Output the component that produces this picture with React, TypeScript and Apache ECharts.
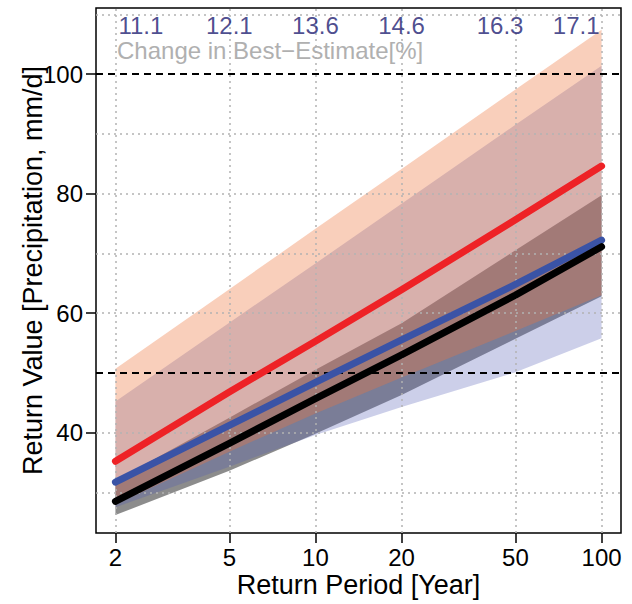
import React, { useEffect, useRef } from "react";
import * as echarts from "echarts";

// ---- data ----
const PERIODS = [2, 5, 10, 20, 50, 100];
const RED = [35.2, 46.8, 55.3, 63.9, 75.6, 84.6];
const RED_LO = [28.0, 36.8, 43.2, 49.2, 57.0, 63.0];
const RED_HI = [50.7, 64.0, 74.1, 84.1, 97.4, 107.4];
const BLUE = [31.7, 41.2, 48.4, 55.5, 64.8, 72.2];
const BLUE_LO = [27.5, 34.3, 39.6, 44.3, 50.1, 55.8];
const BLUE_HI = [45.2, 58.4, 68.3, 78.3, 91.5, 101.4];
const BLACK = [28.5, 38.2, 45.7, 53.0, 63.0, 71.1];
const BLACK_LO = [26.2, 33.6, 39.8, 46.3, 55.7, 62.8];
const BLACK_HI = [32.0, 42.5, 50.5, 58.3, 70.5, 79.7];
const CHANGE = ["11.1", "12.1", "13.6", "14.6", "16.3", "17.1"];
const CHANGE_TITLE = "Change in Best\u2212Estimate[%]";
const X_TICKS = [2, 5, 10, 20, 50, 100];
const Y_TICKS = [40, 60, 80, 100];
const Y_GRID = [30, 40, 50, 60, 70, 80, 90, 100, 110];
const REF_LINES = [50, 100];

// ---- layout / style ----
const X_MIN = 1.7104;
const X_MAX = 116.92;
const Y_MIN = 23.2;
const Y_MAX = 111.05;
const ANNOT_Y = 108.1;
const ANNOT_ALIGN = ["left", "center", "center", "center", "right", "right"];
const ANNOT_OFFSET = [[3, 0], [0, 0], [0, 0], [0, 0], [8, 0], [-2, 0]];
const FONT = "Liberation Sans, Arial, Helvetica, sans-serif";

export default function App() {
  const ref = useRef<HTMLDivElement>(null);
  useEffect(() => {
    if (!ref.current) return;
    const chart = echarts.init(ref.current, null, { renderer: "svg" });
    const bands = [
      { lo: BLACK_LO, hi: BLACK_HI, color: "rgba(0,0,0,0.45)" },
      { lo: BLUE_LO, hi: BLUE_HI, color: "rgba(80,90,180,0.29)" },
      { lo: RED_LO, hi: RED_HI, color: "rgba(238,118,61,0.35)" },
    ];
    const pairs = (ys: number[]) => PERIODS.map((p, i) => [p, ys[i]]);
    const lineSeries = (name: string, ys: number[], color: string, z: number) => ({
      name,
      type: "line",
      xAxisIndex: 0,
      yAxisIndex: 0,
      data: pairs(ys),
      symbol: "none",
      z,
      silent: true,
      lineStyle: { color, width: 7, cap: "round", join: "round" },
    });
    const tickStyle = { color: "#000", width: 1.5 };
    const option: any = {
      animation: false,
      textStyle: { fontFamily: FONT },
      grid: {
        left: 96,
        top: 8,
        width: 525,
        height: 525,
        show: true,
        borderColor: "#000",
        borderWidth: 1.5,
        backgroundColor: "rgba(0,0,0,0)",
      },
      xAxis: [
        { type: "log", logBase: 10, min: X_MIN, max: X_MAX, show: false },
        {
          type: "value",
          position: "bottom",
          min: Math.log10(X_MIN),
          max: Math.log10(X_MAX),
          axisLine: { show: false },
          splitLine: { show: false },
          axisTick: {
            show: true,
            length: 10,
            lineStyle: tickStyle,
            customValues: X_TICKS.map((v) => Math.log10(v)),
          },
          axisLabel: {
            customValues: X_TICKS.map((v) => Math.log10(v)),
            formatter: (v: number) => String(Math.round(Math.pow(10, v))),
            fontSize: 24,
            color: "#000",
            margin: 12,
            fontFamily: FONT,
          },
          name: "Return Period [Year]",
          nameLocation: "middle",
          nameGap: 38,
          nameMoveOverlap: false,
          nameTextStyle: { fontSize: 27, color: "#000", fontFamily: FONT },
        },
      ],
      yAxis: {
        type: "value",
        min: Y_MIN,
        max: Y_MAX,
        axisLine: { show: false },
        splitLine: { show: false },
        axisTick: { show: true, length: 10, lineStyle: tickStyle, customValues: Y_TICKS },
        axisLabel: { customValues: Y_TICKS, fontSize: 24, color: "#000", margin: 13, fontFamily: FONT },
        name: "Return Value [Precipitation, mm/d]",
        nameLocation: "middle",
        nameRotate: 90,
        nameGap: 50,
        nameMoveOverlap: false,
        nameTextStyle: { fontSize: 27, color: "#000", fontFamily: FONT },
      },
      graphic: [
        {
          type: "text",
          left: 117,
          top: 38,
          z: 30,
          style: { text: CHANGE_TITLE, fill: "#B0B0B0", font: `24px ${FONT}`, lineHeight: 24 },
        },
      ],
      series: [
        {
          type: "custom",
          xAxisIndex: 0,
          yAxisIndex: 0,
          z: 1,
          silent: true,
          data: bands.map((b, i) => [PERIODS[0], b.lo[0], i]),
          renderItem: (params: any, api: any) => {
            const b = bands[params.dataIndex];
            const upper = PERIODS.map((p, i) => api.coord([p, b.hi[i]]));
            const lower = PERIODS.map((p, i) => api.coord([p, b.lo[i]])).reverse();
            return {
              type: "polygon",
              shape: { points: upper.concat(lower) },
              style: { fill: b.color, stroke: null },
            };
          },
        },
        {
          type: "line",
          xAxisIndex: 0,
          yAxisIndex: 0,
          data: pairs(BLACK),
          symbol: "none",
          z: 3,
          silent: true,
          lineStyle: { width: 0, opacity: 0 },
          markLine: {
            silent: true,
            symbol: ["none", "none"],
            label: { show: false },
            lineStyle: { color: "#000", type: [7, 5], width: 2, opacity: 1 },
            data: REF_LINES.map((v) => ({ yAxis: v })),
          },
        },
        lineSeries("red", RED, "#EE2226", 5),
        lineSeries("blue", BLUE, "#3A53A6", 6),
        lineSeries("black", BLACK, "#000000", 7),
        {
          type: "line",
          xAxisIndex: 0,
          yAxisIndex: 0,
          data: pairs(BLACK),
          symbol: "none",
          z: 15,
          silent: true,
          lineStyle: { width: 0, opacity: 0 },
          markLine: {
            silent: true,
            symbol: ["none", "none"],
            label: { show: false },
            lineStyle: { color: "#B3B3B3", type: [2, 4], width: 1.5, opacity: 1 },
            data: [
              ...X_TICKS.map((v) => ({ xAxis: v })),
              ...Y_GRID.filter((v) => !REF_LINES.includes(v)).map((v) => ({ yAxis: v })),
            ],
          },
        },
        {
          type: "scatter",
          xAxisIndex: 0,
          yAxisIndex: 0,
          z: 20,
          silent: true,
          symbolSize: 1,
          itemStyle: { color: "rgba(0,0,0,0)" },
          label: {
            show: true,
            position: "inside",
            color: "#1E2072",
            fontSize: 24,
            lineHeight: 24,
            fontFamily: FONT,
            verticalAlign: "middle",
          },
          data: PERIODS.map((p, i) => ({
            value: [p, ANNOT_Y],
            label: { formatter: CHANGE[i], align: ANNOT_ALIGN[i], offset: ANNOT_OFFSET[i] },
          })),
        },
      ],
    };
    chart.setOption(option);
    return () => chart.dispose();
  }, []);
  return (
    <div
      ref={ref}
      style={{ position: "fixed", left: 0, top: 0, width: 632, height: 604, background: "#fff" }}
    />
  );
}
